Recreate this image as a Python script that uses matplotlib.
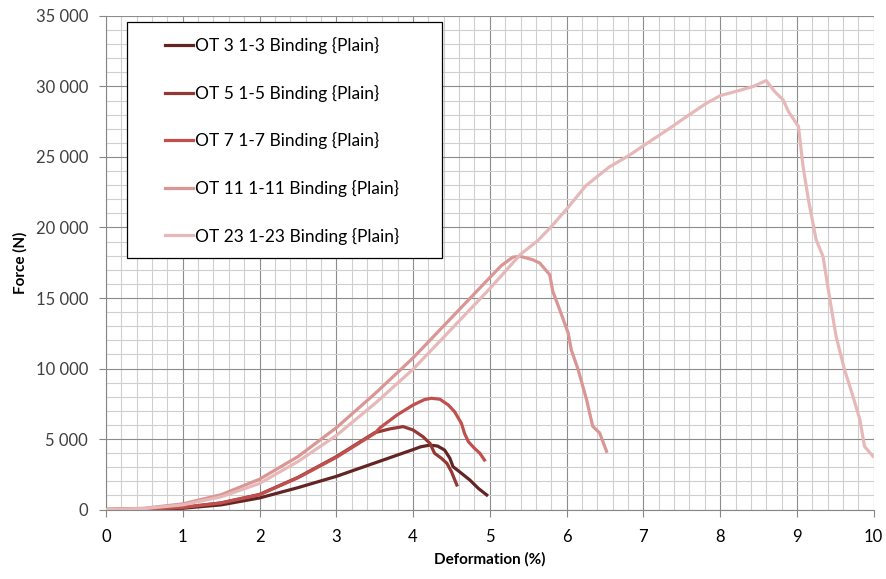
import matplotlib
matplotlib.use("Agg")
from matplotlib import pyplot as plt
from matplotlib.patches import Rectangle
from matplotlib.ticker import MultipleLocator, FuncFormatter

# Valeurs (déformation en %, force en N)
ot3_x = [0, 0.5, 1, 1.5, 2, 2.5, 3, 3.5, 4, 4.1, 4.22, 4.32, 4.41, 4.48, 4.52, 4.63, 4.74, 4.85, 4.96]
ot3_y = [0, 15, 90, 330, 820, 1550, 2350, 3300, 4250, 4450, 4570, 4500, 4220, 3630, 3040, 2570, 2090, 1500, 1030]

ot5_x = [0, 0.5, 1, 1.5, 2, 2.5, 3, 3.5, 3.7, 3.87, 4.0, 4.13, 4.22, 4.28, 4.37, 4.44, 4.5, 4.57]
ot5_y = [0, 25, 150, 470, 1070, 2280, 3750, 5450, 5720, 5880, 5640, 5160, 4690, 3990, 3630, 3280, 2680, 1740]

ot7_x = [0, 0.5, 1, 1.5, 2, 2.5, 3, 3.5, 3.57, 3.79, 4.0, 4.15, 4.24, 4.35, 4.46, 4.54, 4.63, 4.67, 4.72, 4.8, 4.87, 4.93]
ot7_y = [0, 25, 150, 470, 1050, 2250, 3700, 5400, 5800, 6700, 7410, 7800, 7890, 7820, 7410, 6940, 6110, 5400, 4810, 4340, 3990, 3510]

ot11_x = [0, 0.5, 1, 1.5, 2, 2.5, 3, 3.5, 4, 4.5, 5, 5.15, 5.3, 5.4, 5.56, 5.65, 5.78, 5.82, 5.91,
          6.02, 6.06, 6.15, 6.26, 6.34, 6.43, 6.52]
ot11_y = [0, 90, 400, 1050, 2150, 3750, 5800, 8200, 10750, 13600, 16450, 17300, 17900, 17950, 17710, 17480,
          16650, 15470, 14170, 12520, 11340, 9920, 7790, 5900, 5430, 4130]

ot23_x = [0, 0.5, 1, 1.5, 2, 2.5, 3, 3.5, 4, 4.5, 5, 5.4, 5.62, 5.79, 6.0, 6.25, 6.55, 6.81, 7.0, 7.33,
          7.55, 7.81, 8.0, 8.25, 8.43, 8.6, 8.71, 8.82, 8.89, 9.02, 9.08, 9.15, 9.25, 9.34, 9.43, 9.51,
          9.62, 9.73, 9.82, 9.88, 9.99]
ot23_y = [0, 70, 330, 900, 1850, 3400, 5250, 7500, 9950, 12800, 15670, 18100, 19050, 20000, 21300,
          22960, 24270, 25100, 25800, 26990, 27820, 28770, 29350, 29720, 30000, 30420, 29640, 29050,
          28220, 27160, 24320, 21960, 19130, 17950, 14880, 12280, 9920, 8030, 6380, 4480, 3780]

labels = ["OT 3 1-3 Binding {Plain}", "OT 5 1-5 Binding {Plain}", "OT 7 1-7 Binding {Plain}",
          "OT 11 1-11 Binding {Plain}", "OT 23 1-23 Binding {Plain}"]
colors = ["#632523", "#953735", "#C0504D", "#D99694", "#E6B9B8"]

plt.rcParams['font.family'] = ['Lato', 'DejaVu Sans']

fig = plt.figure(figsize=(8.87, 5.79), dpi=100)
ax = fig.add_axes([0.1195, 0.12, 0.8655, 0.8524])

series = [(ot3_x, ot3_y), (ot5_x, ot5_y), (ot7_x, ot7_y), (ot11_x, ot11_y), (ot23_x, ot23_y)]
handles = []
for (xs, ys), c, lab in zip(series, colors, labels):
    h, = ax.plot(xs, ys, color=c, lw=2.3, label=lab, solid_joinstyle='round', zorder=3)
    handles.append(h)

ax.set_xlim(0, 10)
ax.set_ylim(0, 35000)
ax.xaxis.set_major_locator(MultipleLocator(1))
ax.xaxis.set_minor_locator(MultipleLocator(0.2))
ax.yaxis.set_major_locator(MultipleLocator(5000))
ax.yaxis.set_minor_locator(MultipleLocator(1000))
ax.yaxis.set_major_formatter(FuncFormatter(lambda v, p: f"{int(v):,}".replace(",", " ")))

ax.grid(which='major', color='#8c8c8c', lw=0.8, zorder=1)
ax.grid(which='minor', color='#cfcfcf', lw=0.8, zorder=0)
ax.set_axisbelow(True)

for s in ['top', 'right']:
    ax.spines[s].set_visible(False)
for s in ['left', 'bottom']:
    ax.spines[s].set_color('#868686')
    ax.spines[s].set_linewidth(0.8)

ax.tick_params(which='major', length=5, color='#868686', labelsize=12)
ax.tick_params(which='minor', length=0)
ax.tick_params(axis='x', labelcolor='black', pad=9)
ax.tick_params(axis='y', labelcolor='#404040', pad=8)

ax.set_xlabel("Deformation (%)", fontsize=11, fontweight='bold', labelpad=5)
ax.set_ylabel("Force (N)", fontsize=11, fontweight='bold', labelpad=6)

# cadre de la légende
ax.add_patch(Rectangle((0.027, 0.509), 0.411, 0.479, transform=ax.transAxes,
                       facecolor='white', edgecolor='black', lw=0.9, zorder=4))
ax.legend(handles=handles, loc='upper left', bbox_to_anchor=(0.077, 0.957), frameon=False,
          fontsize=12.5, handlelength=1.6, handletextpad=0.1, labelspacing=1.76,
          borderaxespad=0, borderpad=0)

fig.savefig("out.png", dpi=100)
